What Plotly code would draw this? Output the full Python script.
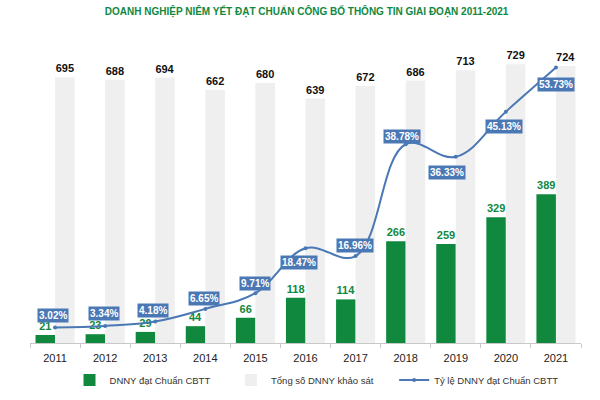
import plotly.graph_objects as go

years = ["2011", "2012", "2013", "2014", "2015", "2016", "2017", "2018", "2019", "2020", "2021"]
dat_chuan = [21, 23, 29, 44, 66, 118, 114, 266, 259, 329, 389]
tong_so = [695, 688, 694, 662, 680, 639, 672, 686, 713, 729, 724]
ty_le = [3.02, 3.34, 4.18, 6.65, 9.71, 18.47, 16.96, 38.78, 36.33, 45.13, 53.73]
series_names = ["DNNY đạt Chuẩn CBTT", "Tổng số DNNY khảo sát", "Tỷ lệ DNNY đạt Chuẩn CBTT"]
# label placement (pixel shifts) for the percentage boxes
label_dy = [12, 12, 11, 10, 10, -14, 11, 8, -16, -15, -17]
label_dx = [-2, -1, -2, -1, 0, -7, -1, -4, -9, -2, 0]

GREEN = "#10893e"
GRAY = "#efefef"
BLUE = "#4a78b5"
FONT = "Liberation Sans"
PAD = "\u00a0" * 6

fig = go.Figure()
fig.add_trace(go.Bar(
    x=years, y=dat_chuan, name=series_names[0] + PAD,
    marker=dict(color=GREEN, line=dict(width=0)),
    text=dat_chuan, textposition="outside", constraintext="none",
    textfont=dict(color=GREEN, size=11, family=FONT, weight="bold"),
    cliponaxis=False,
))
fig.add_trace(go.Bar(
    x=years, y=tong_so, name=series_names[1] + PAD,
    marker=dict(color=GRAY, line=dict(width=0)),
    text=tong_so, textposition="outside", constraintext="none",
    textfont=dict(color="#111111", size=11, family=FONT, weight="bold"),
    cliponaxis=False,
))
fig.add_trace(go.Scatter(
    x=years, y=ty_le, name=series_names[2], yaxis="y2",
    mode="lines+markers",
    line=dict(color=BLUE, width=2, shape="spline", smoothing=1.1),
    marker=dict(color=BLUE, size=4),
    cliponaxis=False,
))

for i, (v, dy, dx) in enumerate(zip(ty_le, label_dy, label_dx)):
    fig.add_annotation(
        x=i, y=v, yref="y2", xref="x",
        text="<b>%.2f%%</b>" % v, showarrow=False,
        yshift=dy, xshift=dx,
        font=dict(color="white", size=10, family=FONT),
        bgcolor=BLUE, borderpad=1,
    )

fig.update_layout(
    width=600, height=400,
    margin=dict(l=30, r=19, t=37, b=57, autoexpand=False),
    paper_bgcolor="white", plot_bgcolor="white",
    barmode="group", bargap=0.22, bargroupgap=0,
    font=dict(family=FONT, size=11, color="#222222"),
    title=dict(
        text="<b>DOANH NGHIỆP NIÊM YẾT ĐẠT CHUẨN CÔNG BỐ THÔNG TIN GIAI ĐOẠN 2011-2021</b>",
        x=0.511, xanchor="center", y=0.972, yanchor="middle",
        font=dict(color=GREEN, size=10, family=FONT),
    ),
    xaxis=dict(
        type="category", range=[-0.5, 10.5], showline=True, linecolor="#c8c8c8", linewidth=1,
        ticks="outside", tickson="boundaries", ticklen=4, tickcolor="#c8c8c8",
        ticklabelstandoff=5, automargin=False,
        showgrid=False, tickfont=dict(size=11, color="#222222"),
    ),
    yaxis=dict(range=[0, 800], visible=False, showgrid=False),
    yaxis2=dict(range=[0, 59.7], overlaying="y", side="right", visible=False, showgrid=False),
    legend=dict(
        orientation="h", x=0.52, xanchor="center", yref="container", y=0.05, yanchor="middle",
        font=dict(size=9.5, color="#333333"), traceorder="normal",
    ),
    showlegend=True,
)

fig.write_html("out.html", config={"displayModeBar": False},
               post_script="document.body.style.margin='0';")
